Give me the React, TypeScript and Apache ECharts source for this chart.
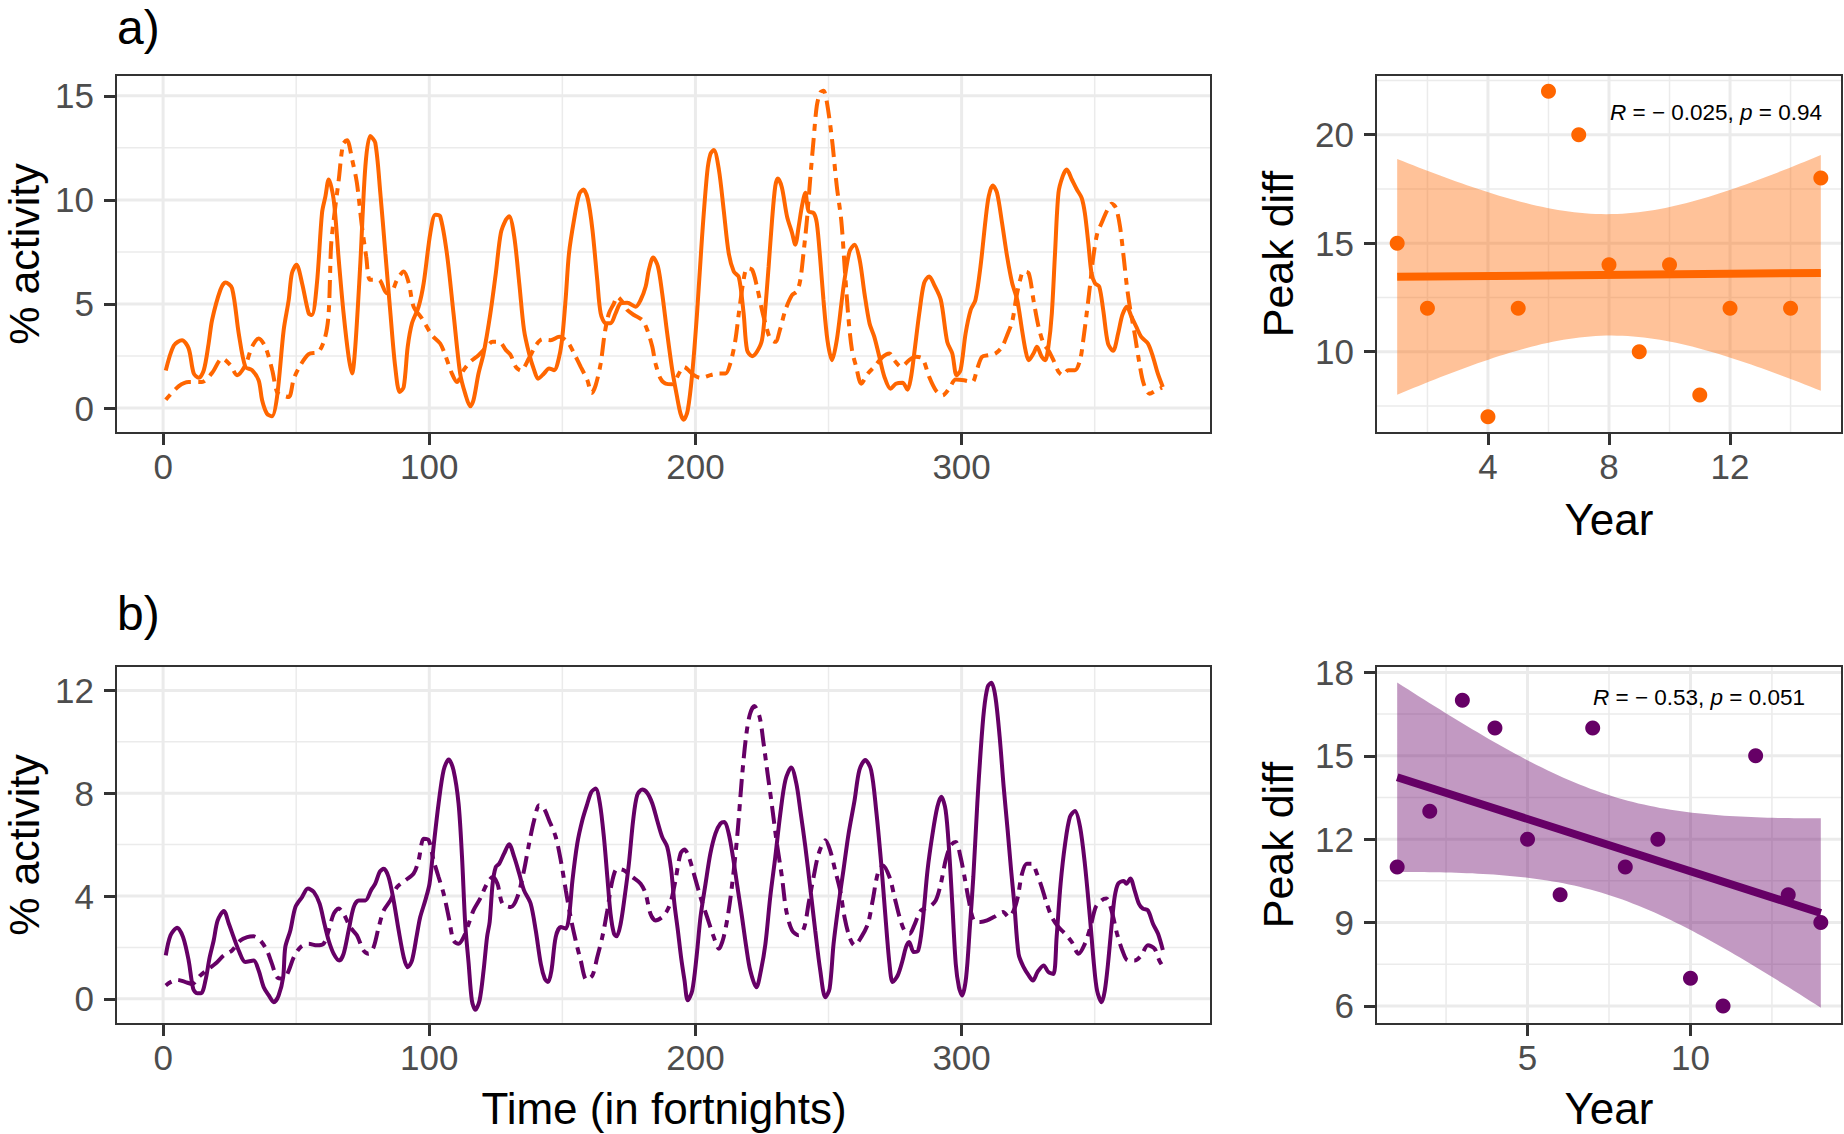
import { useEffect, useRef } from 'react';
import * as echarts from 'echarts';

// panel a: % activity over time (solid and dot-dash series)
const solidA: number[][] = [
  [1, 1.8], [4, 3.0], [7.1, 3.26], [9.6, 2.86], [11.5, 1.66], [13.4, 1.45], [15.3, 1.82], [17.1, 3.1],
  [18.4, 4.23], [21.5, 5.67], [23.4, 6.03], [25.9, 5.76], [28.4, 3.59], [30.9, 1.98], [33.4, 1.82],
  [35.9, 1.33], [37.2, 0.37], [39, -0.27], [40.9, -0.4], [42.8, 0.53], [45.3, 3.75], [47.2, 5.2],
  [48.4, 6.48], [50.1, 6.88], [52.2, 6.0], [54.7, 4.55], [55.9, 4.47], [57.8, 6.0], [59.7, 9.37],
  [61, 10.18], [62.2, 10.98], [64.1, 10.0], [66, 7.1], [67.8, 4.55], [69.7, 2.46], [71, 1.66],
  [72.2, 2.94], [74.1, 6.96], [76, 11.62], [77.8, 13.07], [79.7, 12.75], [81.6, 10.34], [83.5, 7.44],
  [85.4, 4.55], [87.2, 1.98], [88.9, 0.77], [90.4, 1.01], [91.9, 2.94], [93.5, 4.07], [96, 4.87],
  [97.9, 6.0], [100.4, 8.41], [102.3, 9.29], [104.1, 9.21], [106.6, 7.44], [109.1, 4.55], [111.6, 1.66],
  [113.5, 0.69], [115.4, 0.08], [116.6, 0.37], [118.5, 1.66], [120.4, 2.62], [122.9, 4.5], [125, 6.48],
  [126.9, 8.41], [128.8, 9.05], [130, 9.21], [131.9, 8.25], [133.8, 6.0], [135.6, 3.75], [137.5, 2.62],
  [139.4, 1.82], [140.9, 1.41], [143.1, 1.66], [145, 1.9], [146.9, 1.82], [148.8, 2.46], [150, 3.42],
  [151.3, 5.35], [152.5, 7.44], [154.4, 9.05], [156.3, 10.26], [157.9, 10.5], [159.6, 10.02],
  [161.3, 8.57], [163.1, 6.16], [164.4, 4.55], [166.3, 4.07], [168.1, 4.07], [170, 4.55], [171.9, 5.03],
  [174.4, 5.06], [177.5, 4.87], [179.4, 5.19], [181.3, 5.84], [182.5, 6.64], [184.1, 7.23], [185.9, 6.8],
  [187.5, 5.51], [189.4, 3.58], [191.3, 1.82], [193.1, 0.53], [194.4, -0.27], [195.6, -0.56],
  [197.1, -0.11], [198.8, 1.66], [200.6, 4.55], [202.5, 8.25], [204.4, 11.3], [205.6, 12.19],
  [206.9, 12.4], [208.8, 11.46], [210.6, 9.53], [212.5, 7.44], [214.4, 6.56], [216.3, 6.29],
  [218.1, 4.55], [219.4, 2.78], [221.3, 2.49], [223.1, 2.7], [225, 3.26], [226.3, 4.87], [227.5, 6.8],
  [228.8, 9.05], [230, 10.66], [231, 11.03], [232.5, 10.58], [234.4, 9.21], [236.3, 8.41], [237.5, 7.85],
  [238.8, 8.73], [240, 9.69], [241.3, 10.34], [242.5, 9.45], [244.4, 9.37], [245.6, 8.89], [246.9, 7.12],
  [248.1, 5.19], [249.6, 3.26], [251.3, 2.3], [253.1, 3.26], [255, 5.19], [256, 6.16], [257.9, 7.52],
  [259.8, 7.85], [261.7, 7.12], [263.5, 5.51], [265.4, 4.07], [267.2, 3.42], [269.1, 2.46], [271, 1.5],
  [273.3, 0.93], [275.3, 1.17], [277.8, 1.22], [279.7, 0.88], [280.9, 1.41], [282.2, 2.62], [284.1, 4.55],
  [285.9, 6.0], [287.8, 6.32], [289.7, 5.92], [292.2, 5.19], [294.6, 3.18], [296.5, 2.62], [298.1, 1.58],
  [299.6, 1.82], [301.5, 3.58], [303.4, 4.71], [305.2, 5.19], [307.1, 6.8], [309, 9.05], [310.2, 10.18],
  [311.7, 10.69], [313.3, 10.34], [315.2, 8.89], [317.1, 7.28], [319, 6.0], [320.9, 5.19], [322.7, 3.75],
  [324, 2.78], [325.2, 2.3], [327, 2.62], [328.3, 2.94], [330.1, 2.46], [331.4, 2.3], [332.6, 2.94],
  [333.9, 4.55], [335.1, 7.44], [336.4, 10.34], [338, 11.14], [339.5, 11.46], [341.4, 10.98],
  [343.3, 10.5], [345.1, 10.1], [346.3, 9.37], [347.6, 7.93], [348.8, 6.48], [350.1, 6.0], [351.7, 5.84],
  [353.2, 4.71], [355, 3.1], [356.9, 2.75], [358.8, 3.58], [360.4, 4.47], [362.1, 4.87], [363.8, 4.39],
  [365.6, 3.91], [367.5, 3.42], [370, 3.1], [371.9, 2.46], [373.7, 1.66], [375.6, 1.01],
];

const dashA: number[][] = [
  [1, 0.4], [5.9, 1.05], [9.6, 1.25], [14.6, 1.25], [18.4, 1.69], [22.2, 2.38], [25.3, 2.06], [27.8, 1.58],
  [30.9, 2.06], [33.4, 2.94], [35.9, 3.34], [38.4, 2.94], [41, 1.82], [42.8, 0.77], [44.7, 0.61],
  [47.2, 0.53], [49.1, 1.41], [51.6, 2.06], [54.7, 2.59], [58.4, 2.7], [60.9, 3.42], [62.2, 4.55],
  [63.1, 7.77], [64.1, 9.05], [66, 10.98], [67.6, 12.67], [69.1, 12.86], [71, 11.95], [72.8, 10.82],
  [74.7, 8.73], [76.3, 7.28], [77.8, 6.16], [81, 6.16], [84.1, 5.51], [86, 5.6], [87.9, 6.16], [90.4, 6.56],
  [92.3, 6.0], [94.1, 4.87], [97.2, 4.31], [101, 3.5], [104.1, 3.1], [106, 2.54], [108.5, 1.66],
  [110.4, 1.25], [112.9, 1.82], [115.4, 2.22], [118.5, 2.54], [121.6, 2.94], [123.8, 3.18], [126.3, 3.18],
  [128.8, 2.78], [130.6, 2.54], [132.5, 1.98], [134.4, 1.8], [137.5, 2.4], [140, 3.0], [142.5, 3.3],
  [145.6, 3.26], [148.8, 3.42], [151.9, 3.18], [154.4, 2.62], [156.9, 1.98], [159.4, 1.33], [161, 0.72],
  [162.5, 1.09], [164.4, 2.14], [165.9, 3.58], [167.5, 4.55], [169.4, 5.03], [170.6, 5.35], [172.5, 5.11],
  [174.4, 4.71], [176.9, 4.47], [180, 4.23], [181.9, 3.75], [183.8, 2.94], [185, 2.14], [186.9, 1.41],
  [188.8, 1.17], [191.3, 1.14], [193.8, 1.66], [195.6, 1.98], [199.4, 1.58], [201.9, 1.45], [205.6, 1.58],
  [208.8, 1.66], [211.3, 1.66], [213.1, 2.14], [215, 3.26], [216.3, 4.55], [218.1, 6.16], [219.4, 6.72],
  [221.3, 6.64], [223.1, 5.84], [225, 4.71], [226.6, 3.91], [228.1, 3.34], [230, 3.18], [231.9, 3.83],
  [233.8, 4.71], [236.3, 5.43], [238.1, 5.6], [239.4, 6.16], [240.6, 7.44], [241.9, 9.05], [243.1, 10.98],
  [244.4, 12.91], [245.6, 14.52], [246.9, 15.16], [248.1, 15.24], [249.4, 14.68], [251.3, 12.91],
  [253.1, 10.66], [254.8, 9.0], [256.2, 6.5], [257.5, 4.3], [258.8, 2.8], [260.4, 1.98], [262.3, 1.17],
  [264.8, 1.66], [267.2, 1.98], [270.4, 2.46], [272.9, 2.62], [274.7, 2.3], [277.3, 1.98], [280.3, 2.3],
  [282.8, 2.46], [285.3, 2.38], [287.8, 1.5], [290.3, 0.85], [292.8, 0.61], [295.3, 0.93], [297.8, 1.37],
  [300.9, 1.33], [304, 1.25], [305.9, 1.9], [307.7, 2.46], [310.2, 2.54], [312.7, 2.62], [315.2, 2.94],
  [317.1, 3.5], [319, 4.15], [320.6, 5.35], [322, 6.16], [323.3, 6.56], [325.2, 6.48], [327, 5.19],
  [328.9, 3.91], [330.8, 3.1], [332.6, 2.78], [334.5, 2.3], [336.4, 1.74], [338, 1.58], [340.1, 1.82],
  [342.6, 1.82], [344.5, 2.3], [345.7, 3.26], [347, 4.55], [348.2, 5.84], [349.5, 7.28], [351, 8.41],
  [352.6, 8.89], [354.5, 9.45], [356.4, 9.82], [358, 9.61], [359.5, 8.73], [361, 7.12], [362.1, 5.84],
  [363.4, 4.71], [365, 3.58], [366.6, 2.3], [368.4, 1.17], [370.6, 0.69], [373.1, 0.85], [375.3, 0.98],
];

// panel b: % activity over time
const solidB: number[][] = [
  [1, 1.69], [2.8, 2.47], [5.3, 2.77], [7.5, 2.4], [9.6, 1.49], [11.3, 0.39], [12.8, 0.22], [14.3, 0.22],
  [15.9, 0.71], [17.5, 1.62], [19, 2.27], [20.5, 3.05], [22.8, 3.42], [24.7, 2.92], [26.5, 2.4],
  [28.4, 1.88], [30.9, 1.43], [34, 1.49], [35.9, 1.1], [37.8, 0.45], [39.7, 0.13], [41.6, -0.13],
  [43.4, 0.13], [45.1, 0.84], [45.9, 2.01], [47.8, 2.66], [49.7, 3.57], [52.2, 3.96], [54.4, 4.29],
  [56.6, 4.16], [58.8, 3.7], [60.6, 2.92], [62.2, 2.27], [64.1, 1.75], [66.2, 1.49], [67.8, 1.75],
  [69.7, 2.66], [71.6, 3.57], [73.5, 3.83], [76, 3.83], [78.1, 4.22], [79.7, 4.48], [81.4, 4.94],
  [82.9, 5.06], [84.7, 4.74], [86.6, 3.83], [88.5, 2.66], [90.4, 1.62], [91.9, 1.23], [93.5, 1.49],
  [95.4, 2.53], [96.6, 3.18], [98.5, 3.83], [100.1, 4.48], [101.6, 5.91], [103.5, 7.6], [105.4, 8.9],
  [107.3, 9.31], [109.1, 8.9], [111, 7.6], [112.3, 5.52], [113.5, 2.92], [114.8, 1.36], [116, -0.06],
  [117.3, -0.43], [118.9, -0.06], [120.4, 1.1], [121.7, 2.4], [122.7, 3.0], [123.8, 4.48], [125, 5.13],
  [126.3, 5.26], [128.1, 5.65], [130, 6.01], [131.9, 5.52], [133.8, 4.87], [135.6, 4.22], [138.1, 3.7],
  [140, 2.66], [141.9, 1.36], [143.4, 0.78], [144.6, 0.65], [145.9, 1.1], [147.5, 2.4], [149.4, 2.79],
  [151.3, 2.73], [152.5, 3.18], [153.8, 4.61], [155.6, 6.04], [157.5, 6.95], [159.4, 7.6], [160.9, 8.05],
  [162.5, 8.18], [164.1, 7.6], [165.6, 6.3], [166.9, 4.74], [168.1, 3.31], [169.4, 2.53], [170.4, 2.43],
  [171.9, 2.92], [173.4, 3.96], [175, 5.26], [176.6, 6.95], [178.1, 7.92], [180, 8.14], [181.9, 8.01],
  [183.8, 7.6], [185.6, 6.95], [187.5, 6.3], [189.4, 5.91], [190.9, 5.0], [192.1, 3.7], [193.4, 2.66],
  [194.6, 1.62], [195.9, 0.71], [197.1, -0.06], [198.8, 0.32], [200.4, 1.62], [201.9, 3.18], [203.8, 4.48],
  [205.6, 5.65], [207.5, 6.43], [209.4, 6.82], [210.9, 6.88], [212.5, 6.43], [214.1, 5.52], [215.6, 4.48],
  [217.5, 3.18], [219.1, 2.01], [220.6, 1.1], [222.9, 0.45], [224.6, 1.1], [226.3, 2.14], [228.1, 3.96],
  [230, 5.52], [231.9, 7.21], [233.8, 8.51], [236, 9.0], [237.9, 8.38], [239.4, 7.34], [241.3, 5.91],
  [243.1, 4.35], [245, 2.66], [246.9, 1.1], [248.8, 0.06], [250.4, 0.39], [251.9, 2.14], [253.8, 3.7],
  [255.6, 5.0], [257.5, 6.4], [259.8, 7.73], [261.6, 8.9], [263.8, 9.29], [266, 8.9], [267.9, 7.34],
  [269.8, 5.26], [271.2, 3.44], [272.9, 1.36], [274.1, 0.65], [276, 0.91], [277.8, 1.49], [279.1, 2.01],
  [280.3, 2.21], [282, 1.82], [283.7, 1.88], [285.3, 2.92], [287.2, 5.0], [289.1, 6.43], [290.9, 7.47],
  [292.4, 7.86], [294, 7.34], [295.3, 5.78], [296.5, 3.7], [297.8, 1.36], [299, 0.45], [300.2, 0.13],
  [301.7, 0.84], [303.1, 2.79], [304.4, 4.74], [305.9, 7.6], [307.1, 9.55], [308.4, 11.23], [309.8, 12.14],
  [311.2, 12.3], [312.7, 11.75], [314.3, 10.19], [315.8, 8.25], [317.3, 6.56], [318.6, 5.0], [319.8, 3.7],
  [321.4, 1.75], [323.3, 1.23], [325.2, 0.91], [326.8, 0.71], [328.5, 1.04], [330.8, 1.3], [332.6, 1.04],
  [334.5, 0.97], [335.7, 2.4], [337.2, 4.48], [338.9, 6.04], [340.7, 7.08], [342.6, 7.31], [344.5, 6.69],
  [346.3, 5.26], [348.2, 3.18], [349.7, 1.36], [350.9, 0.32], [352.6, -0.13], [353.8, 0.32], [355, 1.36],
  [356.3, 2.79], [357.5, 3.96], [358.8, 4.48], [360.9, 4.58], [361.9, 4.48], [363.4, 4.68], [365, 4.22],
  [366.6, 3.7], [368.1, 3.51], [370, 3.44], [371.9, 2.92], [373.8, 2.53], [375.6, 1.9],
];

const dashB: number[][] = [
  [1, 0.52], [2.8, 0.65], [5.3, 0.74], [8.4, 0.65], [10.9, 0.58], [14, 0.91], [17.1, 1.17], [19.6, 1.36],
  [22.8, 1.69], [25.9, 1.88], [29, 2.27], [31.6, 2.4], [34, 2.43], [36.5, 2.27], [39, 1.88], [40.9, 1.36],
  [42.8, 0.84], [45.3, 0.78], [47.2, 1.1], [49.1, 1.62], [51.6, 2.01], [54.7, 2.14], [57.8, 2.08],
  [60.3, 2.14], [62.2, 2.66], [64.1, 3.31], [66, 3.51], [67.8, 3.31], [70.3, 2.79], [72.8, 2.47],
  [75.3, 1.88], [77.2, 1.75], [79.1, 2.01], [81, 2.79], [82.9, 3.44], [85.4, 3.83], [87.9, 4.35], [91, 4.61],
  [94.1, 4.87], [96, 5.39], [97.9, 6.23], [99.8, 6.17], [101.6, 5.39], [103.5, 4.74], [105.4, 4.09],
  [107.3, 3.18], [109.1, 2.27], [111, 2.14], [112.9, 2.4], [114.8, 2.92], [116.6, 3.44], [119.1, 3.9],
  [121.7, 4.48], [123.8, 4.74], [125.6, 4.48], [127.5, 3.7], [130.6, 3.57], [133.1, 3.96], [135.6, 5.0],
  [137.5, 6.04], [139.4, 6.95], [141.3, 7.53], [143.1, 7.4], [145, 6.95], [147.5, 6.3], [149.4, 5.39],
  [151.3, 4.22], [153.1, 3.18], [155, 2.27], [156.9, 1.49], [159.1, 0.74], [161.3, 0.91], [163.1, 1.62],
  [165, 2.4], [166.9, 3.44], [168.8, 4.61], [170.6, 5.06], [173.1, 5.0], [176.3, 4.74], [179.4, 4.48],
  [181.3, 4.09], [183.1, 3.31], [185, 3.05], [187.5, 3.18], [189.4, 3.44], [190.9, 3.83], [192.5, 4.61],
  [194.4, 5.65], [195.9, 5.81], [197.5, 5.52], [199.4, 4.87], [201.9, 3.96], [204.4, 3.18], [206.9, 2.4],
  [208.8, 1.95], [210.6, 2.4], [212.5, 3.44], [214.4, 5.0], [215.9, 6.56], [217.5, 8.64], [219, 10.19],
  [220.4, 11.04], [222.1, 11.39], [224.1, 10.97], [225.6, 9.94], [227.1, 8.77], [228.8, 7.47],
  [230.6, 6.04], [232.5, 4.74], [234.1, 3.44], [236.3, 2.66], [238.8, 2.47], [240.9, 2.79], [242.5, 3.7],
  [244.4, 4.74], [246.3, 5.65], [248.8, 6.17], [250.6, 5.78], [252.5, 5.0], [254.4, 4.2], [256, 3.18],
  [257.9, 2.4], [259.8, 2.08], [262.3, 2.4], [264.8, 2.92], [266.6, 3.83], [268.5, 4.87], [270.4, 5.19],
  [272.9, 4.74], [274.8, 3.96], [276.7, 3.18], [278.5, 2.66], [280.4, 2.53], [282.2, 2.86], [284.7, 3.44],
  [287.8, 3.57], [290.3, 3.83], [292.2, 4.48], [294, 5.39], [295.9, 5.97], [297.8, 6.1], [299.6, 5.52],
  [301.1, 4.74], [302.7, 3.83], [304.6, 3.05], [307.1, 2.99], [309.6, 3.05], [312.1, 3.18], [315.6, 3.38],
  [317.7, 3.18], [319.6, 3.44], [321.1, 3.96], [322.7, 4.87], [324.5, 5.26], [326.4, 5.26], [328.3, 4.87],
  [330.1, 4.35], [332, 3.7], [333.9, 3.18], [336.4, 2.79], [338.9, 2.53], [341.4, 2.21], [343.9, 1.75],
  [346.3, 2.14], [348.4, 2.79], [350.4, 3.57], [352.6, 3.83], [354.4, 3.9], [356.3, 3.44], [358.4, 2.53],
  [360.4, 1.88], [362.5, 1.49], [365, 1.49], [367.5, 1.69], [370, 2.08], [372.5, 1.95], [374.3, 1.49],
  [376.2, 1.17],
];

// peak difference per year
const yearA = [1, 2, 4, 5, 6, 7, 8, 9, 10, 11, 12, 14, 15];
const peakA = [15, 12, 7, 12, 22, 20, 14, 10, 14, 8, 12, 12, 18];
const yearB = [1, 2, 3, 4, 5, 6, 7, 8, 9, 10, 11, 12, 13, 14];
const peakB = [11, 13, 17, 16, 12, 10, 16, 11, 12, 7, 6, 15, 10, 9];

const statA = { r: '− 0.025', p: '0.94', t: 2.201 };
const statB = { r: '− 0.53', p: '0.051', t: 2.179 };

const timeTicks = [0, 100, 200, 300];
const timeMinor = [50, 150, 250, 350];
const actTicksA = [0, 5, 10, 15];
const actMinorA = [2.5, 7.5, 12.5];
const actTicksB = [0, 4, 8, 12];
const actMinorB = [2, 6, 10];
const yearTicksA = [4, 8, 12];
const yearMinorA = [2, 6, 10, 14];
const peakTicksA = [10, 15, 20];
const peakMinorA = [7.5, 12.5, 17.5, 22.5];
const yearTicksB = [5, 10];
const yearMinorB = [2.5, 7.5, 12.5];
const peakTicksB = [6, 9, 12, 15, 18];
const peakMinorB = [7.5, 10.5, 13.5, 16.5];

const FONT = '"Liberation Sans", Arial, Helvetica, sans-serif';
const ORANGE = '#FF6600';
const PURPLE = '#660066';
const DOTDASH = [7, 7, 18, 7];

// linear fit with 95% confidence band, like geom_smooth(method = "lm")
function lmFit(xs: number[], ys: number[], tq: number) {
  const n = xs.length;
  const mx = xs.reduce((a, b) => a + b, 0) / n;
  const my = ys.reduce((a, b) => a + b, 0) / n;
  let sxx = 0;
  let sxy = 0;
  xs.forEach((x, i) => {
    sxx += (x - mx) ** 2;
    sxy += (x - mx) * (ys[i] - my);
  });
  const b = sxy / sxx;
  const a = my - b * mx;
  let rss = 0;
  xs.forEach((x, i) => {
    rss += (ys[i] - a - b * x) ** 2;
  });
  const s = Math.sqrt(rss / (n - 2));
  const x0 = Math.min(...xs);
  const x1 = Math.max(...xs);
  const band: number[][] = [];
  for (let i = 0; i < 80; i++) {
    const x = x0 + ((x1 - x0) * i) / 79;
    const f = a + b * x;
    const se = s * Math.sqrt(1 / n + (x - mx) ** 2 / sxx);
    band.push([x, f - tq * se, f + tq * se]);
  }
  return { line: [[x0, a + b * x0], [x1, a + b * x1]], band };
}

const GRIDS = [
  { left: 116, top: 75, width: 1095, height: 358 },
  { left: 1376, top: 75, width: 466, height: 358 },
  { left: 116, top: 666, width: 1095, height: 358 },
  { left: 1376, top: 666, width: 466, height: 358 },
];

function gridLines(idx: number, xMajor: number[], xMinor: number[], yMajor: number[], yMinor: number[]) {
  const items = [
    ...xMinor.map((v) => [v, 1, 0]),
    ...yMinor.map((v) => [v, 0, 0]),
    ...xMajor.map((v) => [v, 1, 1]),
    ...yMajor.map((v) => [v, 0, 1]),
  ];
  return {
    type: 'custom',
    xAxisIndex: idx,
    yAxisIndex: idx,
    silent: true,
    z: 1,
    data: items,
    renderItem: (params: any, api: any) => {
      const cs = params.coordSys;
      const v = api.value(0);
      const lw = api.value(2) ? 3 : 1.5;
      const style = { stroke: '#EBEBEB', lineWidth: lw };
      if (api.value(1)) {
        const x = api.coord([v, 0])[0];
        return { type: 'line', shape: { x1: x, y1: cs.y, x2: x, y2: cs.y + cs.height }, style };
      }
      const y = api.coord([0, v])[1];
      return { type: 'line', shape: { x1: cs.x, y1: y, x2: cs.x + cs.width, y2: y }, style };
    },
  };
}

function bandSeries(idx: number, band: number[][], fill: string) {
  return {
    type: 'custom',
    xAxisIndex: idx,
    yAxisIndex: idx,
    silent: true,
    z: 3,
    data: band,
    encode: { x: 0, y: [1, 2] },
    renderItem: (params: any, api: any) => {
      if (params.dataIndex !== 0) return null;
      const upper = band.map((p) => api.coord([p[0], p[2]]));
      const lower = band.map((p) => api.coord([p[0], p[1]])).reverse();
      return { type: 'polygon', shape: { points: upper.concat(lower) }, style: { fill } };
    },
  };
}

function axis(idx: number, min: number, max: number, ticks: number[], margin: number) {
  return {
    type: 'value',
    gridIndex: idx,
    min,
    max,
    splitLine: { show: false },
    axisLine: { show: false, onZero: false },
    axisTick: { show: true, length: 12, customValues: ticks, lineStyle: { color: '#333333', width: 3 } },
    axisLabel: { show: true, customValues: ticks, margin, color: '#4D4D4D', fontSize: 35, fontFamily: FONT },
  };
}

function tsLine(idx: number, data: number[][], color: string, dashed: boolean) {
  return {
    type: 'line',
    xAxisIndex: idx,
    yAxisIndex: idx,
    data,
    smooth: 0.3,
    showSymbol: false,
    silent: true,
    z: 4,
    lineStyle: { color, width: 4, type: dashed ? DOTDASH : 'solid', cap: 'butt' },
  };
}

function label(text: string, x: number, y: number, size: number, rotate = false) {
  return {
    type: 'text',
    x,
    y,
    rotation: rotate ? Math.PI / 2 : 0,
    z: 50,
    style: { text, fontSize: size, fontFamily: FONT, fill: '#000000', align: 'center', verticalAlign: 'middle' },
  };
}

function statLabel(s: { r: string; p: string }, x: number, y: number) {
  const rich = { i: { fontStyle: 'italic', fontSize: 22.5, fontFamily: FONT, fill: '#000000' } };
  return {
    type: 'text',
    x,
    y,
    z: 50,
    style: {
      text: `{i|R} = ${s.r}, {i|p} = ${s.p}`,
      rich,
      fontSize: 22.5,
      fontFamily: FONT,
      fill: '#000000',
      align: 'left',
      verticalAlign: 'middle',
    },
  };
}

export default function App() {
  const ref = useRef<HTMLDivElement>(null);

  useEffect(() => {
    if (!ref.current) return;
    document.body.style.margin = '0';
    const chart = echarts.init(ref.current, undefined, { renderer: 'svg' });

    const fitA = lmFit(yearA, peakA, statA.t);
    const fitB = lmFit(yearB, peakB, statB.t);

    const option = {
      animation: false,
      backgroundColor: '#ffffff',
      textStyle: { fontFamily: FONT },
      grid: GRIDS.map((g) => ({ ...g, show: true, backgroundColor: '#ffffff', borderWidth: 0 })),
      xAxis: [
        axis(0, -17.7, 393.7, timeTicks, 16),
        axis(1, 0.3, 15.7, yearTicksA, 16),
        axis(2, -17.7, 393.7, timeTicks, 16),
        axis(3, 0.35, 14.65, yearTicksB, 16),
      ],
      yAxis: [
        axis(0, -1.2, 16.0, actTicksA, 22),
        axis(1, 6.25, 22.75, peakTicksA, 22),
        axis(2, -0.98, 12.95, actTicksB, 22),
        axis(3, 5.35, 18.23, peakTicksB, 22),
      ],
      series: [
        gridLines(0, timeTicks, timeMinor, actTicksA, actMinorA),
        gridLines(1, yearTicksA, yearMinorA, peakTicksA, peakMinorA),
        gridLines(2, timeTicks, timeMinor, actTicksB, actMinorB),
        gridLines(3, yearTicksB, yearMinorB, peakTicksB, peakMinorB),
        tsLine(0, dashA, ORANGE, true),
        tsLine(0, solidA, ORANGE, false),
        tsLine(2, dashB, PURPLE, true),
        tsLine(2, solidB, PURPLE, false),
        bandSeries(1, fitA.band, 'rgba(255,102,0,0.4)'),
        bandSeries(3, fitB.band, 'rgba(102,0,102,0.4)'),
        {
          type: 'line', xAxisIndex: 1, yAxisIndex: 1, data: fitA.line, showSymbol: false, silent: true, z: 5,
          lineStyle: { color: ORANGE, width: 8 },
        },
        {
          type: 'line', xAxisIndex: 3, yAxisIndex: 3, data: fitB.line, showSymbol: false, silent: true, z: 5,
          lineStyle: { color: PURPLE, width: 8 },
        },
        {
          type: 'scatter', xAxisIndex: 1, yAxisIndex: 1, z: 6, silent: true, symbolSize: 15,
          data: yearA.map((y, i) => [y, peakA[i]]), itemStyle: { color: ORANGE, opacity: 1 },
        },
        {
          type: 'scatter', xAxisIndex: 3, yAxisIndex: 3, z: 6, silent: true, symbolSize: 15,
          data: yearB.map((y, i) => [y, peakB[i]]), itemStyle: { color: PURPLE, opacity: 1 },
        },
      ],
      graphic: [
        ...GRIDS.map((g) => ({
          type: 'rect',
          z: 40,
          silent: true,
          shape: { x: g.left, y: g.top, width: g.width, height: g.height },
          style: { fill: 'none', stroke: '#333333', lineWidth: 2 },
        })),
        {
          type: 'text', x: 117, y: 27, z: 50,
          style: { text: 'a)', fontSize: 48, fontFamily: FONT, fill: '#000000', align: 'left', verticalAlign: 'middle' },
        },
        {
          type: 'text', x: 117, y: 613, z: 50,
          style: { text: 'b)', fontSize: 48, fontFamily: FONT, fill: '#000000', align: 'left', verticalAlign: 'middle' },
        },
        label('% activity', 24, 254, 43, true),
        label('% activity', 24, 845, 43, true),
        label('Peak diff', 1278, 254, 43, true),
        label('Peak diff', 1278, 845, 43, true),
        label('Year', 1609, 519, 44),
        label('Year', 1609, 1108, 44),
        label('Time (in fortnights)', 664, 1108, 44),
        statLabel(statA, 1610, 112),
        statLabel(statB, 1593, 697),
      ],
    };

    chart.setOption(option as any);
    return () => chart.dispose();
  }, []);

  return <div ref={ref} style={{ width: 1844, height: 1134 }} />;
}
